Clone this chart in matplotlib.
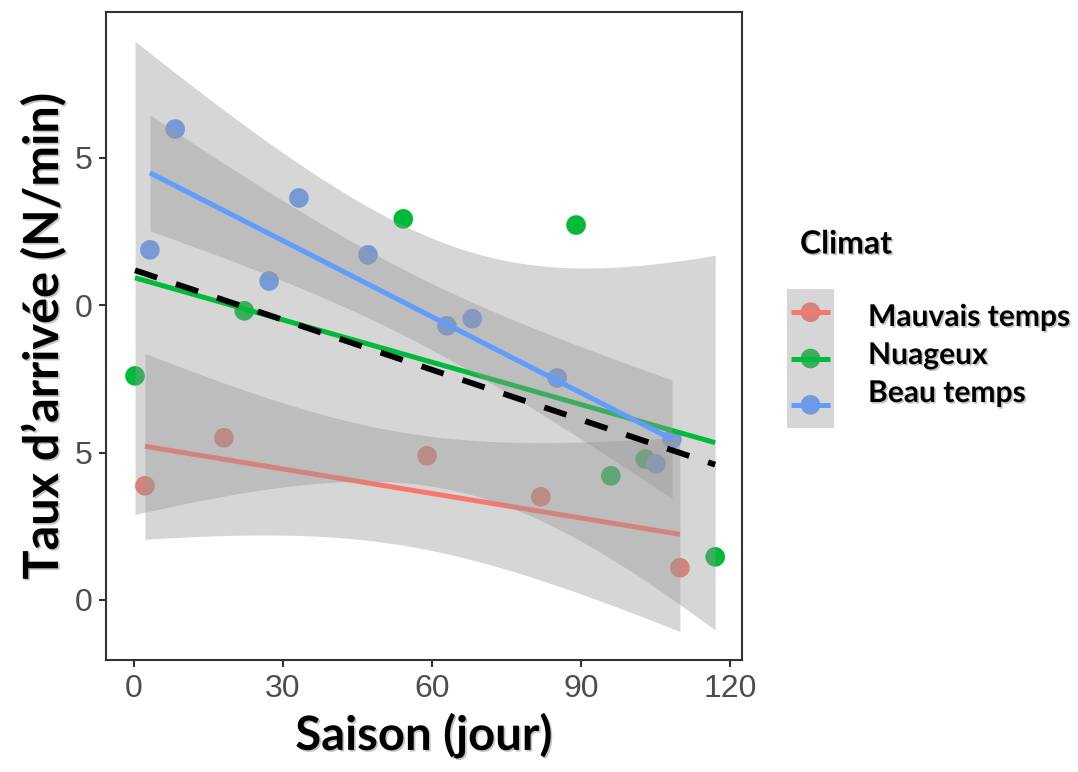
import numpy as np
import matplotlib.pyplot as plt
import matplotlib.patheffects as pe
from matplotlib.patches import Rectangle

# categories and colours (ggplot default hues)
climats = ["Mauvais temps", "Nuageux", "Beau temps"]
couleurs = ["#F8766D", "#00BA38", "#619CFF"]

# points: saison (jour) / taux d'arrivee (N/min)
saison_mauvais = [2.2, 18.1, 59.0, 81.9, 109.9]
taux_mauvais = [3.87, 5.50, 4.89, 3.50, 1.09]

saison_nuageux = [0.2, 22.2, 54.2, 89.0, 96.0, 102.9, 117.0]
taux_nuageux = [7.60, 9.81, 12.93, 12.72, 4.21, 4.78, 1.46]

saison_beau = [8.3, 3.2, 33.2, 27.2, 47.1, 63.0, 68.1, 85.2, 105.1, 108.3]
taux_beau = [15.98, 11.88, 13.64, 10.82, 11.71, 9.30, 9.54, 7.53, 4.62, 5.46]

x_ticks = [0, 30, 60, 90, 120]
y_ticks = [0, 5, 10, 15]
y_tick_labels = ["0", "5", "0", "5"]

groupes = [(saison_mauvais, taux_mauvais),
           (saison_nuageux, taux_nuageux),
           (saison_beau, taux_beau)]

# 97.5% quantiles of Student t, by degrees of freedom
T975 = {3: 3.182446, 5: 2.570582, 8: 2.306004}


def lm_ci(x, y, n=80):
    """linear fit with 95% confidence band, like geom_smooth(method='lm')"""
    x = np.asarray(x, float)
    y = np.asarray(y, float)
    b1, b0 = np.polyfit(x, y, 1)
    xs = np.linspace(x.min(), x.max(), n)
    pred = b0 + b1 * xs
    resid = y - (b0 + b1 * x)
    s = np.sqrt((resid ** 2).sum() / (len(x) - 2))
    sxx = ((x - x.mean()) ** 2).sum()
    se = s * np.sqrt(1 / len(x) + (xs - x.mean()) ** 2 / sxx)
    t = T975[len(x) - 2]
    return xs, pred, pred - t * se, pred + t * se


ombre = [pe.withSimplePatchShadow(offset=(1.2, -1.2), shadow_rgbFace="#555555",
                                  alpha=0.35)]
titre = dict(family="Lato", weight="bold", path_effects=ombre)

fig = plt.figure(figsize=(10.78, 7.72), dpi=100)
ax = fig.add_axes([106 / 1078, 1 - 660 / 772, 636 / 1078, 648 / 772])

# points first, the ribbons are drawn over them
for (x, y), c in zip(groupes, couleurs):
    ax.scatter(x, y, s=200, color=c, edgecolor="none", zorder=1)

z = 2
for (x, y), c in zip(groupes, couleurs):
    xs, pred, lo, hi = lm_ci(x, y)
    ax.fill_between(xs, lo, hi, color="#999999", alpha=0.4, lw=0, zorder=z)
    ax.plot(xs, pred, color=c, lw=3.6, zorder=z + 1, solid_capstyle="butt")
    z += 2

# global fit, dashed, no band
x_all = saison_mauvais + saison_nuageux + saison_beau
y_all = taux_mauvais + taux_nuageux + taux_beau
b1, b0 = np.polyfit(x_all, y_all, 1)
xs = np.linspace(min(x_all), max(x_all), 80)
ax.plot(xs, b0 + b1 * xs, color="black", lw=4.2, ls=(0, (4, 3.4)),
        zorder=z + 1)

ax.set_xlim(-5.64, 122.4)
ax.set_ylim(-2.04, 19.95)
ax.set_xticks(x_ticks)
ax.set_yticks(y_ticks)
ax.set_yticklabels(y_tick_labels)

for sp in ax.spines.values():
    sp.set_color("#333333")
    sp.set_linewidth(1.5)
ax.tick_params(length=5, width=1.5, color="#333333", labelcolor="#4D4D4D",
               labelsize=23, pad=5)
for lab in ax.get_xticklabels() + ax.get_yticklabels():
    lab.set_family("Liberation Sans")

ax.set_xlabel("Saison (jour)", size=34, labelpad=6, **titre)
ax.set_ylabel("Taux d\u2019arrivée (N/min)", size=35, labelpad=6, **titre)

# legend drawn by hand: point under the grey band, line on top
lg = fig.add_axes([787 / 1078, 1 - 428 / 772, 47 / 1078, 139 / 772])
lg.set_xlim(0, 1)
lg.set_ylim(3, 0)
lg.axis("off")
lg.add_patch(Rectangle((0, 0), 1, 3, color="#999999", alpha=0.4, lw=0,
                       zorder=2))
for i, (nom, c) in enumerate(zip(climats, couleurs)):
    lg.scatter([0.5], [i + 0.5], s=200, color=c, edgecolor="none", zorder=1,
               clip_on=False)
    lg.plot([0.08, 0.92], [i + 0.5, i + 0.5], color=c, lw=3.6, zorder=3,
            solid_capstyle="butt")
    fig.text(868 / 1078, 1 - (317 + 38 * i) / 772, nom, size=21.6,
             va="center", ha="left", **titre)

fig.text(800 / 1078, 1 - 244 / 772, "Climat", size=23, va="center",
         ha="left", **titre)

fig.savefig("out.png", dpi=100)
